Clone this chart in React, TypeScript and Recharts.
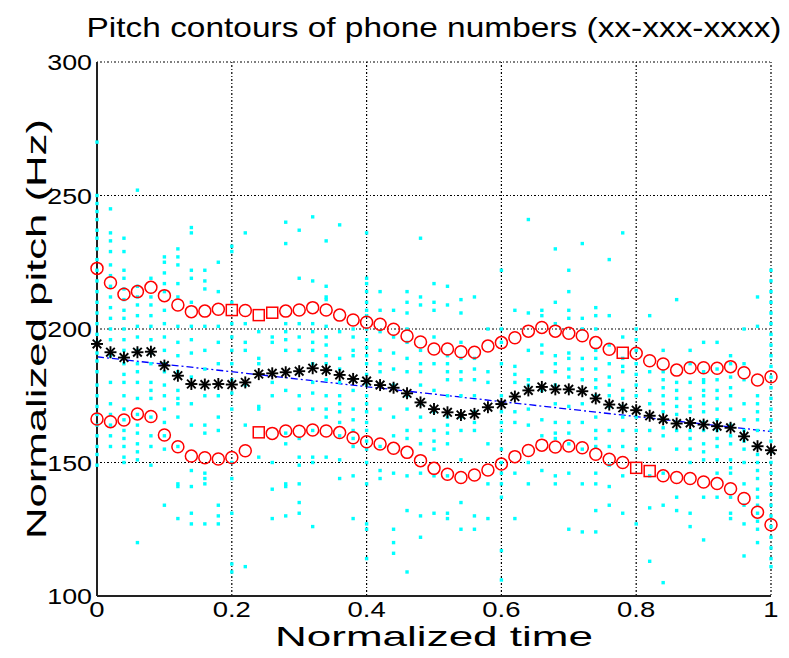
import React from 'react';
import { ComposedChart, Scatter, Line, XAxis, YAxis, CartesianGrid } from 'recharts';

const xTicks = [0, 0.2, 0.4, 0.6, 0.8, 1];
const yTicks = [100, 150, 200, 250, 300];
const step = 0.02;

// mean + std (red, top)
const upperVals = [
  222.7, 217.3, 213.0, 214.0, 215.6, 212.5, 209.0, 206.5, 206.7, 207.4,
  207.1, 206.9, 205.2, 206.1, 206.7, 207.1, 208.0, 207.1, 205.2, 203.4,
  202.5, 201.8, 199.9, 197.4, 195.1, 192.5, 192.5, 191.5, 191.3, 193.6,
  194.9, 196.7, 199.2, 200.6, 199.2, 198.4, 197.5, 194.9, 192.4, 191.1,
  190.9, 188.1, 186.9, 184.6, 185.5, 185.5, 185.3, 185.9, 183.6, 180.9,
  182.1,
];
const upperSquares = [10, 12, 13, 39];

// mean (black stars)
const meanVals = [
  194.4, 191.3, 189.3, 191.3, 191.5, 186.3, 182.5, 179.4, 179.2, 179.4,
  179.2, 180.0, 183.1, 183.4, 183.8, 184.2, 185.3, 184.6, 182.8, 181.3,
  180.5, 179.0, 178.0, 175.9, 172.5, 170.0, 168.8, 167.8, 168.2, 170.7,
  171.9, 174.7, 177.0, 178.3, 177.4, 177.4, 176.7, 174.0, 171.7, 170.5,
  169.6, 167.5, 166.2, 164.6, 164.8, 164.2, 163.6, 163.0, 159.8, 156.1,
  154.6,
];

// mean - std (red, bottom)
const lowerVals = [
  166.3, 165.3, 165.9, 168.2, 167.2, 160.3, 155.9, 152.4, 151.8, 151.3,
  151.9, 154.4, 161.3, 160.9, 161.8, 161.7, 162.2, 161.8, 161.2, 159.3,
  157.8, 156.9, 155.3, 153.8, 150.7, 147.8, 145.6, 144.4, 145.3, 147.2,
  149.4, 152.2, 154.5, 156.5, 155.8, 156.2, 155.5, 153.1, 151.2, 150.0,
  148.0, 146.8, 145.0, 144.4, 144.0, 142.7, 142.1, 140.2, 136.5, 131.4,
  126.7,
];
const lowerSquares = [12, 40, 41];

// linear fit (blue dash-dot), at x = 0 and x = 1
const fitVals = [189.6, 161.6];

// raw pitch samples (cyan), one list per time column
const cyanCols = [
  [270, 250, 247, 244, 241, 237, 234, 230, 226, 222, 218, 214, 210, 206, 202, 198, 195, 191, 188, 184, 179, 175, 171, 168, 164, 160, 156, 153, 149],
  [245, 236, 233, 229, 224, 220, 216, 212, 208, 204, 200, 196, 190, 180, 172, 168, 164, 160, 156],
  [234, 229, 222, 219, 215, 211, 207, 204, 200, 196, 192, 187, 183, 180, 175, 170, 166, 162, 159, 156, 152, 150],
  [252, 216, 212, 209, 205, 201, 197, 192, 187, 184, 180, 174, 168, 164, 161, 157, 154, 151, 120],
  [219, 212, 209, 205, 201, 196, 191, 187, 180, 177, 174, 167, 160, 156, 149],
  [227, 225, 221, 217, 214, 207, 202, 197, 192, 187, 184, 179, 175, 170, 165, 160, 155, 134],
  [230, 227, 224, 217, 212, 201, 195, 190, 184, 177, 174, 172, 167, 156, 142, 141, 129],
  [238, 236, 222, 219, 210, 201, 196, 191, 182, 172, 164, 147, 141, 131, 127],
  [222, 218, 215, 201, 192, 185, 175, 164, 161, 146, 144, 142, 127],
  [225, 214, 201, 195, 187, 175, 167, 162, 134, 130, 127],
  [231, 229, 210, 202, 197, 192, 187, 181, 176, 170, 150, 144, 131, 112, 109],
  [236, 202, 195, 192, 179, 164, 111],
  [199, 189, 187, 171, 170, 152],
  [197, 195, 180, 175, 150, 140, 129],
  [240, 232, 202, 199, 196, 192, 177, 161, 157, 142, 141, 130],
  [237, 219, 202, 197, 192, 184, 175, 170, 159, 152, 149, 142, 135, 131],
  [242, 218, 202, 199, 195, 192, 187, 180, 176, 170, 162, 152, 150, 126],
  [233, 216, 212, 211, 201, 197, 194, 190, 187, 181, 175, 170, 167, 152],
  [239, 199, 189, 185, 180, 175, 172, 169, 165, 160, 151, 144],
  [200, 197, 192, 190, 181, 177, 170, 166, 162, 159, 156, 145, 129],
  [236, 219, 217, 214, 210, 207, 205, 200, 196, 193, 190, 187, 183, 179, 175, 172, 169, 165, 162, 158, 155, 150, 142, 127, 125, 114],
  [214, 207, 199, 192, 187, 184, 170, 156, 147, 144],
  [207, 197, 191, 185, 179, 167, 160, 146, 125, 120, 116],
  [214, 210, 206, 200, 195, 189, 184, 175, 170, 162, 159, 145, 132, 109],
  [234, 212, 209, 192, 187, 184, 179, 172, 167, 162, 157, 146, 130, 122],
  [217, 210, 207, 197, 187, 177, 169, 162, 158, 155, 145, 131],
  [216, 209, 190, 187, 184, 181, 175, 167, 164, 161, 157, 145, 131, 129],
  [211, 206, 195, 189, 184, 181, 175, 167, 162, 151, 135, 125],
  [212, 189, 185, 181, 175, 169, 165, 162, 130, 125],
  [200, 184, 180, 157, 142, 129],
  [222, 200, 195, 187, 175, 172, 169, 165, 162, 155, 150, 146, 142, 137, 117, 106],
  [207, 186, 183, 180, 169, 165, 146, 129],
  [241, 206, 192, 181, 179, 170, 164, 150, 142],
  [207, 205, 194, 191, 184, 177, 166, 160, 147],
  [230, 210, 202, 190, 187, 184, 179, 172, 165, 161, 159, 145, 142],
  [222, 214, 207, 204, 191, 189, 185, 182, 177, 171, 165, 161, 157, 146, 125],
  [232, 204, 200, 189, 185, 181, 172, 165, 155, 142, 124],
  [208, 205, 200, 192, 189, 185, 181, 178, 175, 167, 162, 159, 156, 146, 142, 132, 124],
  [226, 205, 194, 187, 182, 179, 175, 171, 162, 156, 149, 141, 134],
  [236, 197, 189, 186, 184, 177, 174, 171, 167, 162, 156, 145, 131],
  [200, 196, 192, 187, 183, 179, 175, 167, 162, 155, 127],
  [205, 184, 177, 172, 162, 155, 145, 133, 113],
  [192, 184, 181, 178, 175, 172, 169, 166, 163, 160, 146, 134, 105],
  [211, 180, 177, 174, 171, 168, 165, 162, 155, 137, 132],
  [192, 187, 180, 174, 171, 169, 165, 162, 159, 155, 150, 131, 126],
  [195, 184, 181, 180, 177, 175, 172, 169, 165, 162, 157, 154, 151, 137, 121],
  [195, 185, 181, 177, 174, 170, 166, 162, 159, 156, 151, 146, 137],
  [190, 187, 182, 178, 175, 170, 164, 160, 157, 151, 148, 146, 137, 131, 129],
  [200, 187, 181, 172, 166, 162, 158, 155, 150, 142, 134, 127, 115],
  [212, 201, 175, 172, 169, 166, 162, 156, 153, 150, 147, 144, 140, 137, 134, 131, 128, 125, 120],
  [222, 218, 214, 210, 206, 202, 198, 194, 190, 186, 182, 178, 174, 170, 166, 162, 158, 154, 150, 146, 142, 138, 134, 130, 126, 122, 118, 114, 111],
];

const toPoints = (vals: number[], squares: number[] = []) =>
  vals.map((y, i) => ({ x: +(i * step).toFixed(2), y, sq: squares.includes(i) }));

const upperData = toPoints(upperVals, upperSquares);
const lowerData = toPoints(lowerVals, lowerSquares);
const meanData = toPoints(meanVals);
const fitData = [
  { x: 0, y: fitVals[0] },
  { x: 1, y: fitVals[1] },
];
const cyanData = cyanCols.flatMap((col, i) =>
  col.map((y) => ({ x: +(i * step).toFixed(2), y }))
);

const FONT = '"Liberation Sans", Arial, Helvetica, sans-serif';

// rough Arial advance widths, used to stretch text like the original bitmap font
const textLen = (s: string, fs: number, k: number) =>
  s.split('').reduce((a, c) => a + (c === '.' ? 0.278 : 0.556), 0) * fs * k;

const fmtX = (v: number) => (v === 0 ? '0' : v === 1 ? '1' : String(v));

const YTick = ({ x, y, payload }: any) => {
  const s = String(payload.value);
  return (
    <text x={x} y={y + 8} textAnchor="end" fontFamily={FONT} fontSize={22} fill="#000"
      textLength={textLen(s, 22, 1.22)} lengthAdjust="spacingAndGlyphs">
      {s}
    </text>
  );
};

const XTick = ({ x, y, payload }: any) => {
  const s = fmtX(payload.value);
  return (
    <text x={x} y={y + 17} textAnchor="middle" fontFamily={FONT} fontSize={22} fill="#000"
      textLength={textLen(s, 22, 1.25)} lengthAdjust="spacingAndGlyphs">
      {s}
    </text>
  );
};

const CyanDot = ({ cx, cy }: any) => (
  <rect x={cx - 1.7} y={cy - 1.7} width={3.4} height={3.4} fill="#00ffff" />
);

const Star = ({ cx, cy }: any) => {
  const r = 6;
  const d = 4.3;
  return (
    <g stroke="#000" strokeWidth={1.9}>
      <line x1={cx - r} y1={cy} x2={cx + r} y2={cy} />
      <line x1={cx} y1={cy - r} x2={cx} y2={cy + r} />
      <line x1={cx - d} y1={cy - d} x2={cx + d} y2={cy + d} />
      <line x1={cx - d} y1={cy + d} x2={cx + d} y2={cy - d} />
    </g>
  );
};

const RedMark = ({ cx, cy, payload }: any) =>
  payload && payload.sq ? (
    <rect x={cx - 5.5} y={cy - 5.5} width={11} height={11} fill="none" stroke="#ff0000" strokeWidth={1.5} />
  ) : (
    <circle cx={cx} cy={cy} r={6} fill="none" stroke="#ff0000" strokeWidth={1.5} />
  );

export default function App() {
  return (
    <div style={{ position: 'absolute', left: 0, top: 0, background: '#fff' }}>
      <ComposedChart width={789} height={658} margin={{ top: 62, right: 18, bottom: 0, left: 0 }}>
        <CartesianGrid stroke="#000" strokeWidth={1.2} strokeDasharray="1 2 2 2" />
        <XAxis
          type="number"
          dataKey="x"
          domain={[0, 1]}
          ticks={xTicks}
          height={62}
          tickSize={0}
          tickMargin={4}
          tick={<XTick />}
          axisLine={{ stroke: '#222', strokeWidth: 2 }}
        />
        <YAxis
          type="number"
          dataKey="y"
          domain={[100, 300]}
          ticks={yTicks}
          width={97}
          tickSize={0}
          tickMargin={5}
          tick={<YTick />}
          axisLine={{ stroke: '#222', strokeWidth: 2 }}
        />
        <Scatter data={cyanData} dataKey="y" shape={<CyanDot />} isAnimationActive={false} />
        <Line data={fitData} dataKey="y" stroke="#0000ff" strokeWidth={1.3} strokeDasharray="7 3 2 3"
          dot={false} activeDot={false} isAnimationActive={false} />
        <Scatter data={meanData} dataKey="y" shape={<Star />} isAnimationActive={false} />
        <Scatter data={upperData} dataKey="y" shape={<RedMark />} isAnimationActive={false} />
        <Scatter data={lowerData} dataKey="y" shape={<RedMark />} isAnimationActive={false} />
        <text x={434} y={37} textAnchor="middle" fontFamily={FONT} fontSize={28} fill="#000"
          textLength={695} lengthAdjust="spacingAndGlyphs">
          Pitch contours of phone numbers (xx-xxx-xxxx)
        </text>
        <text x={434} y={646} textAnchor="middle" fontFamily={FONT} fontSize={28} fill="#000"
          textLength={318} lengthAdjust="spacingAndGlyphs">
          Normalized time
        </text>
        <text x={0} y={0} transform="translate(46,329) rotate(-90)" textAnchor="middle" fontFamily={FONT}
          fontSize={28} fill="#000" textLength={420} lengthAdjust="spacingAndGlyphs">
          Normalized pitch (Hz)
        </text>
      </ComposedChart>
    </div>
  );
}
